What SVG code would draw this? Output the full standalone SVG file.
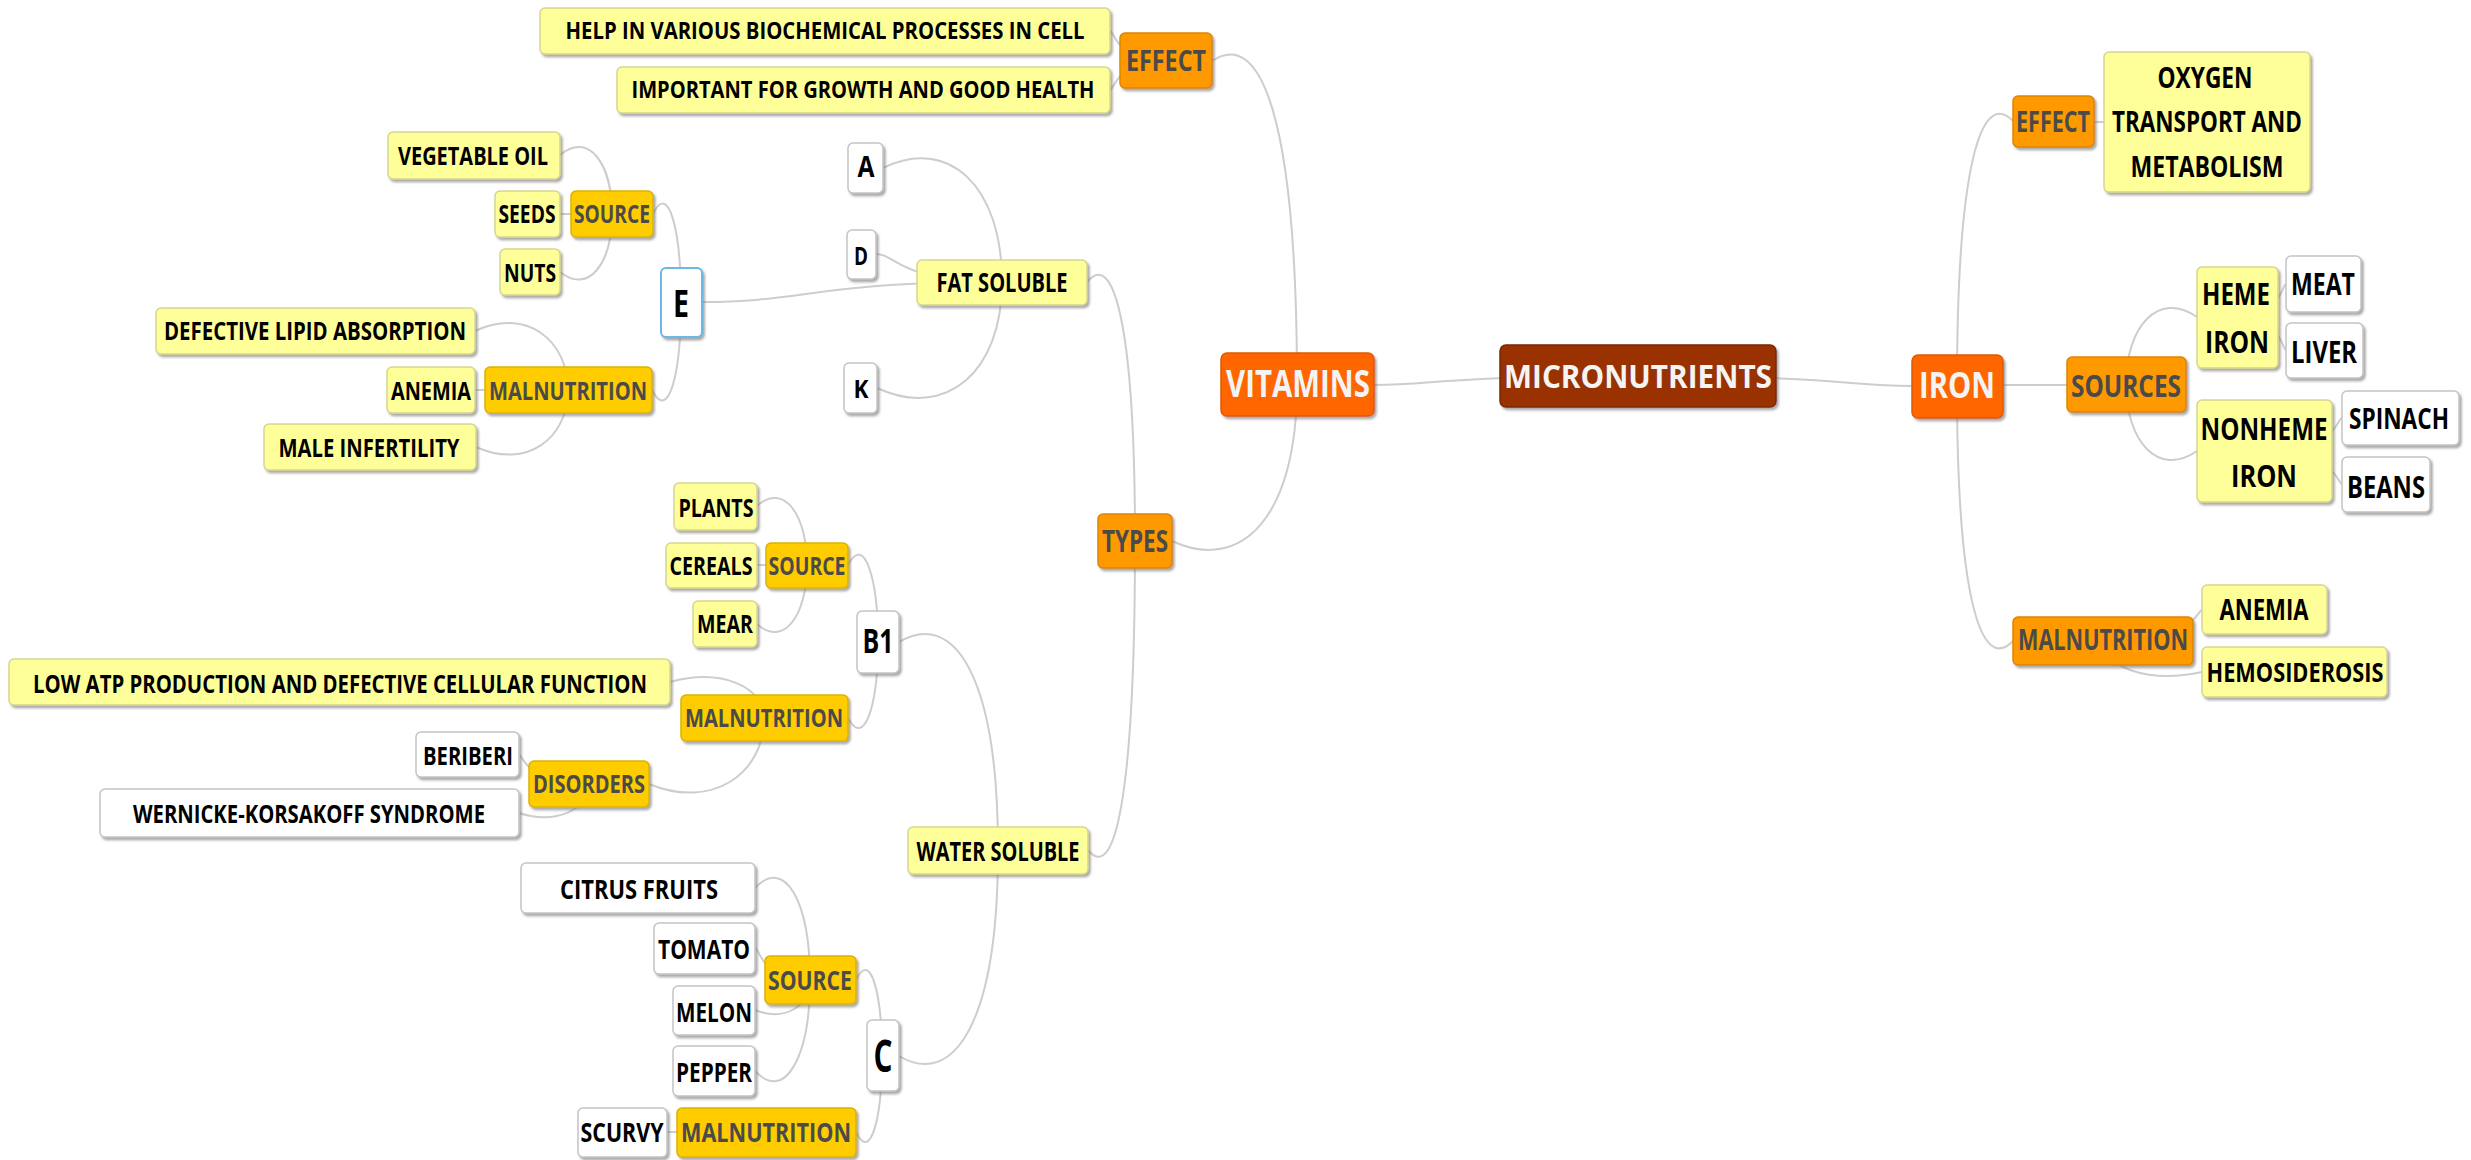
<svg xmlns="http://www.w3.org/2000/svg" width="2471" height="1160" viewBox="0 0 2471 1160">
<defs>
<filter id="sh" x="-10%" y="-10%" width="130%" height="140%">
<feDropShadow dx="2" dy="2.5" stdDeviation="1.2" flood-color="#707070" flood-opacity="0.6"/>
</filter>
<style>
rect{stroke-width:1.5;filter:url(#sh)}
.y{fill:#FFFF99;stroke:#d6d690}
.w{fill:#FFFFFF;stroke:#c4c4c4}
.o1{fill:#FF6600;stroke:#e05a00}
.o2{fill:#FF9900;stroke:#de8500}
.o3{fill:#FFCC00;stroke:#dcb200}
.r{fill:#993300;stroke:#7a2800}
.sel{fill:#FFFFFF;stroke:#6cb8e4;stroke-width:2}
text{font-family:"Open Sans","Liberation Sans",sans-serif;font-weight:700;text-anchor:middle}
.k{fill:#000}
.g{fill:#4a4a4a}
.wt{fill:#f4f4f4}
#connectors path{fill:none;stroke:#cdcdcd;stroke-width:2}
</style>
</defs>
<rect x="0" y="0" width="2471" height="1160" fill="#ffffff" style="filter:none;stroke:none"/>
<g id="connectors">
<path d="M1374,385 C1437,385 1437,376 1638,376"/>
<path d="M1912,386 C1844,386 1844,376 1638,376"/>
<path d="M1212,61 C1259,29 1297,110 1297,385"/>
<path d="M1172,541 C1241,573 1297,518 1297,385"/>
<path d="M1110,31 C1115,31 1115,61 1165,61"/>
<path d="M1110,90 C1115,90 1115,61 1165,61"/>
<path d="M1087,282 C1113,250 1135,321 1135,541"/>
<path d="M1088,850 C1114,882 1135,804 1135,541"/>
<path d="M883,168 C948,136 1002,185 1002,282"/>
<path d="M876,254 C897,254 897,282 1002,282"/>
<path d="M877,388 C946,420 1002,372 1002,282"/>
<path d="M701,302 C809,302 809,282 1002,282"/>
<path d="M653,214 C668,182 681,227 681,302"/>
<path d="M652,390 C668,422 681,377 681,302"/>
<path d="M560,155 C589,131 612,164 612,214"/>
<path d="M560,214 L612,214"/>
<path d="M560,272 C589,295 612,263 612,214"/>
<path d="M475,331 C526,307 568,340 568,390"/>
<path d="M475,390 L568,390"/>
<path d="M476,447 C527,470 568,438 568,390"/>
<path d="M899,642 C953,610 998,673 998,850"/>
<path d="M899,1056 C953,1088 998,1025 998,850"/>
<path d="M848,565 C864,534 878,577 878,642"/>
<path d="M848,718 C864,748 878,707 878,642"/>
<path d="M757,506 C784,482 807,515 807,565"/>
<path d="M757,565 L807,565"/>
<path d="M757,624 C784,648 807,615 807,565"/>
<path d="M670,682 C722,668 764,687 764,718"/>
<path d="M649,784 C712,810 764,774 764,718"/>
<path d="M519,755 C524,755 524,784 589,784"/>
<path d="M519,813 C557,825 589,809 589,784"/>
<path d="M856,980 C870,950 882,991 882,1056"/>
<path d="M856,1132 C870,1162 882,1121 882,1056"/>
<path d="M755,888 C785,856 810,902 810,980"/>
<path d="M755,948 C760,948 760,980 810,980"/>
<path d="M755,1010 C785,1022 810,1006 810,980"/>
<path d="M755,1071 C785,1103 810,1057 810,980"/>
<path d="M667,1132 L766,1132"/>
<path d="M2013,121 C1982,89 1957,161 1957,386"/>
<path d="M2104,122 L2053,122"/>
<path d="M2067,385 L1957,385"/>
<path d="M2013,641 C1982,673 1957,603 1957,386"/>
<path d="M2197,317 C2158,290 2126,327 2126,384"/>
<path d="M2197,451 C2158,478 2126,441 2126,384"/>
<path d="M2286,284 C2282,284 2282,317 2237,317"/>
<path d="M2286,350 C2282,350 2282,317 2237,317"/>
<path d="M2342,418 C2337,418 2337,451 2264,451"/>
<path d="M2342,484 C2337,484 2337,451 2264,451"/>
<path d="M2202,610 C2197,610 2197,641 2103,641"/>
<path d="M2202,672 C2148,684 2103,667 2103,641"/>
</g>

<g id="micronutrients"><rect class="r" x="1500" y="345" width="276" height="62" rx="6"/><text class="wt" x="1638" y="388" font-size="33" textLength="268" lengthAdjust="spacingAndGlyphs">MICRONUTRIENTS</text></g>
<g id="vitamins"><rect class="o1" x="1221" y="353" width="153" height="63" rx="6"/><text class="wt" x="1298" y="397" font-size="37" textLength="144" lengthAdjust="spacingAndGlyphs">VITAMINS</text></g>
<g id="iron"><rect class="o1" x="1912" y="355" width="91" height="63" rx="6"/><text class="wt" x="1957" y="398" font-size="35" textLength="76" lengthAdjust="spacingAndGlyphs">IRON</text></g>

<g id="effect-v"><rect class="o2" x="1120" y="33" width="92" height="55" rx="5"/><text class="g" x="1166" y="71" font-size="28" textLength="80" lengthAdjust="spacingAndGlyphs">EFFECT</text></g>
<g id="help"><rect class="y" x="540" y="8" width="570" height="46" rx="5"/><text class="k" x="825" y="39" font-size="23" textLength="519" lengthAdjust="spacingAndGlyphs">HELP IN VARIOUS BIOCHEMICAL PROCESSES IN CELL</text></g>
<g id="important"><rect class="y" x="617" y="67" width="493" height="46" rx="5"/><text class="k" x="863" y="98" font-size="23" textLength="463" lengthAdjust="spacingAndGlyphs">IMPORTANT FOR GROWTH AND GOOD HEALTH</text></g>
<g id="types"><rect class="o2" x="1098" y="514" width="74" height="54" rx="5"/><text class="g" x="1135" y="552" font-size="30" textLength="66" lengthAdjust="spacingAndGlyphs">TYPES</text></g>
<g id="fat-soluble"><rect class="y" x="917" y="260" width="170" height="45" rx="5"/><text class="k" x="1002" y="292" font-size="26" textLength="131" lengthAdjust="spacingAndGlyphs">FAT SOLUBLE</text></g>
<g id="vit-a"><rect class="w" x="848" y="143" width="35" height="50" rx="5"/><text class="k" x="866" y="177" font-size="28" textLength="17" lengthAdjust="spacingAndGlyphs">A</text></g>
<g id="vit-d"><rect class="w" x="847" y="230" width="29" height="49" rx="5"/><text class="k" x="861" y="265" font-size="25" textLength="14" lengthAdjust="spacingAndGlyphs">D</text></g>
<g id="vit-k"><rect class="w" x="844" y="363" width="33" height="50" rx="5"/><text class="k" x="861" y="398" font-size="25" textLength="15" lengthAdjust="spacingAndGlyphs">K</text></g>
<g id="vit-e"><rect class="sel" x="661" y="268" width="41" height="69" rx="5"/><text class="k" x="681" y="317" font-size="38" textLength="16" lengthAdjust="spacingAndGlyphs">E</text></g>
<g id="source-e"><rect class="o3" x="571" y="191" width="82" height="46" rx="5"/><text class="g" x="612" y="223" font-size="25" textLength="76" lengthAdjust="spacingAndGlyphs">SOURCE</text></g>
<g id="vegetable-oil"><rect class="y" x="388" y="132" width="172" height="47" rx="5"/><text class="k" x="473" y="165" font-size="25" textLength="150" lengthAdjust="spacingAndGlyphs">VEGETABLE OIL</text></g>
<g id="seeds"><rect class="y" x="495" y="191" width="65" height="46" rx="5"/><text class="k" x="527" y="223" font-size="25" textLength="57" lengthAdjust="spacingAndGlyphs">SEEDS</text></g>
<g id="nuts"><rect class="y" x="500" y="249" width="60" height="46" rx="5"/><text class="k" x="530" y="282" font-size="25" textLength="52" lengthAdjust="spacingAndGlyphs">NUTS</text></g>
<g id="malnutrition-e"><rect class="o3" x="485" y="367" width="167" height="46" rx="5"/><text class="g" x="568" y="400" font-size="25" textLength="158" lengthAdjust="spacingAndGlyphs">MALNUTRITION</text></g>
<g id="defective-lipid"><rect class="y" x="156" y="308" width="319" height="46" rx="5"/><text class="k" x="315" y="340" font-size="25" textLength="302" lengthAdjust="spacingAndGlyphs">DEFECTIVE LIPID ABSORPTION</text></g>
<g id="anemia-e"><rect class="y" x="387" y="367" width="88" height="46" rx="5"/><text class="k" x="431" y="400" font-size="25" textLength="80" lengthAdjust="spacingAndGlyphs">ANEMIA</text></g>
<g id="male-infertility"><rect class="y" x="264" y="424" width="212" height="46" rx="5"/><text class="k" x="369" y="457" font-size="25" textLength="181" lengthAdjust="spacingAndGlyphs">MALE INFERTILITY</text></g>

<g id="water-soluble"><rect class="y" x="908" y="827" width="180" height="47" rx="5"/><text class="k" x="998" y="861" font-size="26" textLength="163" lengthAdjust="spacingAndGlyphs">WATER SOLUBLE</text></g>
<g id="vit-b1"><rect class="w" x="857" y="611" width="42" height="62" rx="5"/><text class="k" x="878" y="653" font-size="34" textLength="31" lengthAdjust="spacingAndGlyphs">B1</text></g>
<g id="source-b1"><rect class="o3" x="766" y="543" width="82" height="45" rx="5"/><text class="g" x="807" y="575" font-size="25" textLength="77" lengthAdjust="spacingAndGlyphs">SOURCE</text></g>
<g id="plants"><rect class="y" x="674" y="483" width="83" height="47" rx="5"/><text class="k" x="716" y="517" font-size="25" textLength="75" lengthAdjust="spacingAndGlyphs">PLANTS</text></g>
<g id="cereals"><rect class="y" x="666" y="543" width="91" height="45" rx="5"/><text class="k" x="711" y="575" font-size="25" textLength="83" lengthAdjust="spacingAndGlyphs">CEREALS</text></g>
<g id="mear"><rect class="y" x="693" y="601" width="64" height="46" rx="5"/><text class="k" x="725" y="633" font-size="25" textLength="56" lengthAdjust="spacingAndGlyphs">MEAR</text></g>
<g id="malnutrition-b1"><rect class="o3" x="681" y="695" width="167" height="46" rx="5"/><text class="g" x="764" y="727" font-size="25" textLength="158" lengthAdjust="spacingAndGlyphs">MALNUTRITION</text></g>
<g id="low-atp"><rect class="y" x="9" y="659" width="661" height="46" rx="5"/><text class="k" x="340" y="693" font-size="25" textLength="614" lengthAdjust="spacingAndGlyphs">LOW ATP PRODUCTION AND DEFECTIVE CELLULAR FUNCTION</text></g>
<g id="disorders"><rect class="o3" x="529" y="761" width="120" height="46" rx="5"/><text class="g" x="589" y="793" font-size="25" textLength="112" lengthAdjust="spacingAndGlyphs">DISORDERS</text></g>
<g id="beriberi"><rect class="w" x="416" y="732" width="103" height="45" rx="5"/><text class="k" x="468" y="765" font-size="25" textLength="90" lengthAdjust="spacingAndGlyphs">BERIBERI</text></g>
<g id="wernicke"><rect class="w" x="100" y="789" width="419" height="48" rx="5"/><text class="k" x="309" y="823" font-size="25" textLength="352" lengthAdjust="spacingAndGlyphs">WERNICKE-KORSAKOFF SYNDROME</text></g>

<g id="vit-c"><rect class="w" x="867" y="1020" width="32" height="71" rx="5"/><text class="k" x="883" y="1072" font-size="44" textLength="19" lengthAdjust="spacingAndGlyphs">C</text></g>
<g id="source-c"><rect class="o3" x="765" y="956" width="91" height="48" rx="5"/><text class="g" x="810" y="990" font-size="26" textLength="84" lengthAdjust="spacingAndGlyphs">SOURCE</text></g>
<g id="citrus"><rect class="w" x="521" y="863" width="234" height="50" rx="5"/><text class="k" x="639" y="899" font-size="26" textLength="158" lengthAdjust="spacingAndGlyphs">CITRUS FRUITS</text></g>
<g id="tomato"><rect class="w" x="654" y="923" width="101" height="51" rx="5"/><text class="k" x="704" y="959" font-size="26" textLength="92" lengthAdjust="spacingAndGlyphs">TOMATO</text></g>
<g id="melon"><rect class="w" x="673" y="986" width="82" height="49" rx="5"/><text class="k" x="714" y="1022" font-size="26" textLength="76" lengthAdjust="spacingAndGlyphs">MELON</text></g>
<g id="pepper"><rect class="w" x="673" y="1046" width="82" height="50" rx="5"/><text class="k" x="714" y="1082" font-size="26" textLength="76" lengthAdjust="spacingAndGlyphs">PEPPER</text></g>
<g id="malnutrition-c"><rect class="o3" x="677" y="1108" width="179" height="49" rx="5"/><text class="g" x="766" y="1142" font-size="26" textLength="170" lengthAdjust="spacingAndGlyphs">MALNUTRITION</text></g>
<g id="scurvy"><rect class="w" x="578" y="1108" width="89" height="49" rx="5"/><text class="k" x="622" y="1142" font-size="26" textLength="83" lengthAdjust="spacingAndGlyphs">SCURVY</text></g>

<g id="effect-i"><rect class="o2" x="2013" y="96" width="81" height="51" rx="5"/><text class="g" x="2053" y="132" font-size="28" textLength="74" lengthAdjust="spacingAndGlyphs">EFFECT</text></g>
<g id="oxygen"><rect class="y" x="2104" y="52" width="206" height="140" rx="5"/><text class="k" x="2205" y="88" font-size="29" textLength="95" lengthAdjust="spacingAndGlyphs">OXYGEN</text><text class="k" x="2207" y="132" font-size="29" textLength="190" lengthAdjust="spacingAndGlyphs">TRANSPORT AND</text><text class="k" x="2207" y="177" font-size="29" textLength="153" lengthAdjust="spacingAndGlyphs">METABOLISM</text></g>
<g id="sources"><rect class="o2" x="2067" y="357" width="119" height="55" rx="5"/><text class="g" x="2126" y="397" font-size="30" textLength="110" lengthAdjust="spacingAndGlyphs">SOURCES</text></g>
<g id="heme-iron"><rect class="y" x="2197" y="267" width="81" height="101" rx="5"/><text class="k" x="2236" y="305" font-size="30" textLength="68" lengthAdjust="spacingAndGlyphs">HEME</text><text class="k" x="2237" y="353" font-size="30" textLength="64" lengthAdjust="spacingAndGlyphs">IRON</text></g>
<g id="meat"><rect class="w" x="2286" y="256" width="75" height="56" rx="5"/><text class="k" x="2323" y="295" font-size="30" textLength="64" lengthAdjust="spacingAndGlyphs">MEAT</text></g>
<g id="liver"><rect class="w" x="2286" y="323" width="77" height="55" rx="5"/><text class="k" x="2324" y="363" font-size="30" textLength="66" lengthAdjust="spacingAndGlyphs">LIVER</text></g>
<g id="nonheme-iron"><rect class="y" x="2197" y="400" width="135" height="102" rx="5"/><text class="k" x="2264" y="440" font-size="30" textLength="127" lengthAdjust="spacingAndGlyphs">NONHEME</text><text class="k" x="2264" y="487" font-size="30" textLength="66" lengthAdjust="spacingAndGlyphs">IRON</text></g>
<g id="spinach"><rect class="w" x="2342" y="391" width="117" height="54" rx="5"/><text class="k" x="2399" y="429" font-size="28" textLength="100" lengthAdjust="spacingAndGlyphs">SPINACH</text></g>
<g id="beans"><rect class="w" x="2342" y="457" width="88" height="55" rx="5"/><text class="k" x="2386" y="498" font-size="30" textLength="78" lengthAdjust="spacingAndGlyphs">BEANS</text></g>
<g id="malnutrition-i"><rect class="o2" x="2013" y="617" width="180" height="48" rx="5"/><text class="g" x="2103" y="650" font-size="28" textLength="170" lengthAdjust="spacingAndGlyphs">MALNUTRITION</text></g>
<g id="anemia-i"><rect class="y" x="2202" y="585" width="125" height="49" rx="5"/><text class="k" x="2264" y="620" font-size="28" textLength="89" lengthAdjust="spacingAndGlyphs">ANEMIA</text></g>
<g id="hemosiderosis"><rect class="y" x="2202" y="647" width="185" height="50" rx="5"/><text class="k" x="2295" y="682" font-size="27" textLength="177" lengthAdjust="spacingAndGlyphs">HEMOSIDEROSIS</text></g>
</svg>
